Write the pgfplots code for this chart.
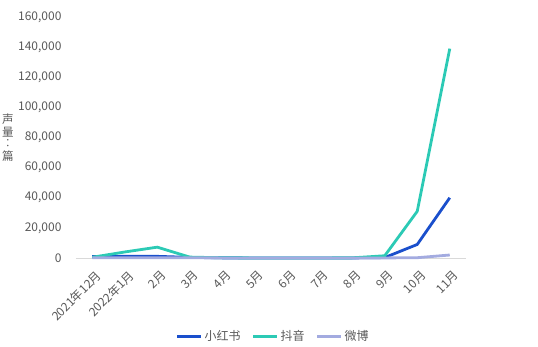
\documentclass[border=0pt]{standalone}
\usepackage{fontspec}
\setmainfont{Noto Sans CJK SC}
\usepackage{pgfplots}
\pgfplotsset{compat=1.18}
\definecolor{cXhs}{HTML}{1A4FCC}
\definecolor{cDy}{HTML}{2CCAB5}
\definecolor{cWb}{HTML}{A3ABE0}
\definecolor{cTxt}{HTML}{595959}
\definecolor{cAx}{HTML}{D9D9D9}
\begin{document}
\begin{tikzpicture}[x=1pt,y=1pt]
\path[use as bounding box] (0,0) rectangle (538,346);
\begin{axis}[
  at={(76pt,88pt)}, anchor=south west,
  scale only axis, width=390pt, height=241pt,
  xmin=-0.5, xmax=11.5, ymin=0, ymax=160000,
  axis lines*=left,
  y axis line style={draw=none},
  x axis line style={draw=cAx, line width=0.8pt, -},
  major tick length=0pt,
  xtick={0,...,11},
  xticklabels={2021年12月,2022年1月,2月,3月,4月,5月,6月,7月,8月,9月,10月,11月},
  xticklabel style={rotate=45, anchor=north east, font=\fontsize{12}{13}\selectfont, text=cTxt, inner sep=1pt, xshift=-5pt, yshift=-9pt},
  ytick={0,20000,40000,60000,80000,100000,120000,140000,160000},
  yticklabels={0,{20,000},{40,000},{60,000},{80,000},{100,000},{120,000},{140,000},{160,000}},
  yticklabel style={font=\fontsize{12}{13}\selectfont, text=cTxt, xshift=-11pt},
  scaled y ticks=false,
  ylabel={\shortstack{声\\量\\︰\\篇}},
  ylabel style={rotate=-90, font=\fontsize{11.5}{11.5}\selectfont, text=cTxt, at={(-68pt,0.5)}, anchor=center},
  legend style={at={(197pt,-78pt)}, anchor=center, draw=none, legend columns=-1, font=\fontsize{12}{13}\selectfont, text=cTxt, /tikz/every even column/.append style={column sep=9pt}},
  legend image code/.code={\draw[#1, line width=3pt] (0pt,0pt) -- (24pt,0pt);},
  clip=false,
]
\addplot[color=cXhs, line width=2.8pt] coordinates {(0,1000) (1,1200) (2,1100) (3,400) (4,100) (5,50) (6,50) (7,50) (8,50) (9,300) (10,9000) (11,40000)};
\addlegendentry{小红书}
\addplot[color=cDy, line width=2.8pt] coordinates {(0,500) (1,4000) (2,7200) (3,600) (4,150) (5,50) (6,50) (7,50) (8,100) (9,1500) (10,31000) (11,139000)};
\addlegendentry{抖音}
\addplot[color=cWb, line width=2.8pt] coordinates {(0,200) (1,200) (2,200) (3,200) (4,50) (5,30) (6,30) (7,30) (8,30) (9,50) (10,200) (11,2000)};
\addlegendentry{微博}
\end{axis}
\end{tikzpicture}
\end{document}
